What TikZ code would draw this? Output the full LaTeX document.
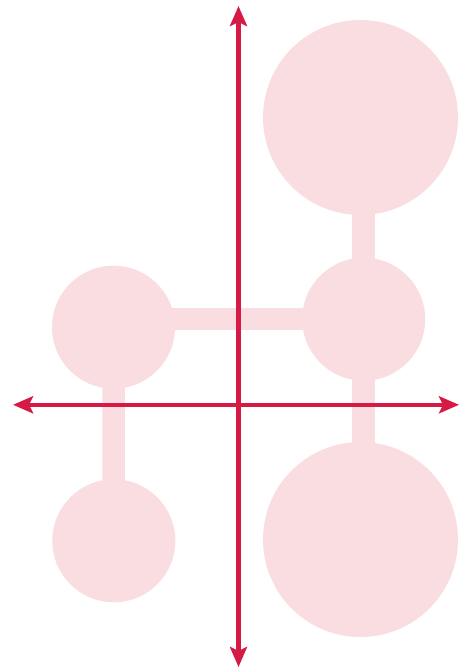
\documentclass[tikz,border=0pt]{standalone}
\usepackage{xcolor}
\usepackage{tikz}
\usetikzlibrary{arrows.meta}
\definecolor{blobpink}{RGB}{249,221,224}
\definecolor{axiscrimson}{RGB}{214,26,70}

\begin{document}
\begin{tikzpicture}[
  x=1pt,y=-1pt,
  bigblob/.style={circle,fill=blobpink,inner sep=0pt,minimum size=195pt},
  smallblob/.style={circle,fill=blobpink,inner sep=0pt,minimum size=123pt},
  bar/.style={draw=blobpink,line width=22.5pt},
  axis/.style={{Stealth[length=20pt,width=17pt,inset=4pt]}-{Stealth[length=20pt,width=17pt,inset=4pt]},line width=4.5pt,draw=axiscrimson}
]
  \useasboundingbox (0,0) rectangle (459,671);

  \node[bigblob] (topbig) at (360.5,117.5) {};
  \node[smallblob] (midright) at (363.7,319.2) {};
  \node[bigblob] (botbig) at (360.5,539.5) {};
  \node[smallblob] (leftmid) at (113.5,327.2) {};
  \node[smallblob] (leftbot) at (113.8,540.8) {};

  \draw[bar] (midright.center) -- (midright.center |- topbig.center);
  \draw[bar] (midright.center) -- (midright.center |- botbig.center);
  \draw[bar] (midright.center) -- (midright.center -| leftmid.center);
  \draw[bar] (leftmid.center) -- (leftbot.center);

  \coordinate (ytop) at (238.5,6);
  \coordinate (ybot) at (238.5,667);
  \coordinate (xleft) at (13,404.8);
  \coordinate (xright) at (459,404.8);

  \draw[axis] (ybot) -- (ytop);
  \draw[axis] (xleft) -- (xright);
\end{tikzpicture}
\end{document}
